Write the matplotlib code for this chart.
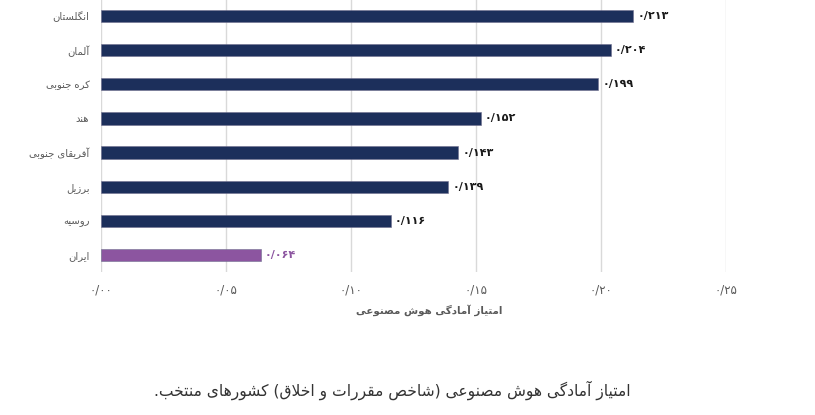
import matplotlib
matplotlib.use("Agg")
import matplotlib.pyplot as plt

# ---------------- data ----------------
countries = ["انگلستان", "آلمان", "کره جنوبی", "هند", "آفریقای جنوبی", "برزیل", "روسیه", "ایران"]
scores = [0.213, 0.204, 0.199, 0.152, 0.143, 0.139, 0.116, 0.064]
bar_colors = ["#1c2f5b"] * 7 + ["#8c55a0"]
label_colors = ["#1a1a1a"] * 7 + ["#8c55a0"]
tick_values = [0.00, 0.05, 0.10, 0.15, 0.20, 0.25]
tick_labels = ["۰/۰۰", "۰/۰۵", "۰/۱۰", "۰/۱۵", "۰/۲۰", "۰/۲۵"]
x_title = "امتیاز آمادگی هوش مصنوعی"
caption = "امتیاز آمادگی هوش مصنوعی (شاخص مقررات و اخلاق) کشورهای منتخب."

# ---------------- minimal Arabic/Persian shaping ----------------
FORMS = {
    '\u0627': ('\uFE8D', '\uFE8E', None, None),
    '\u0622': ('\uFE81', '\uFE82', None, None),
    '\u0628': ('\uFE8F', '\uFE90', '\uFE91', '\uFE92'),
    '\u067E': ('\uFB56', '\uFB57', '\uFB58', '\uFB59'),
    '\u062A': ('\uFE95', '\uFE96', '\uFE97', '\uFE98'),
    '\u062B': ('\uFE99', '\uFE9A', '\uFE9B', '\uFE9C'),
    '\u062C': ('\uFE9D', '\uFE9E', '\uFE9F', '\uFEA0'),
    '\u0686': ('\uFB7A', '\uFB7B', '\uFB7C', '\uFB7D'),
    '\u062D': ('\uFEA1', '\uFEA2', '\uFEA3', '\uFEA4'),
    '\u062E': ('\uFEA5', '\uFEA6', '\uFEA7', '\uFEA8'),
    '\u062F': ('\uFEA9', '\uFEAA', None, None),
    '\u0630': ('\uFEAB', '\uFEAC', None, None),
    '\u0631': ('\uFEAD', '\uFEAE', None, None),
    '\u0632': ('\uFEAF', '\uFEB0', None, None),
    '\u0698': ('\uFB8A', '\uFB8B', None, None),
    '\u0633': ('\uFEB1', '\uFEB2', '\uFEB3', '\uFEB4'),
    '\u0634': ('\uFEB5', '\uFEB6', '\uFEB7', '\uFEB8'),
    '\u0635': ('\uFEB9', '\uFEBA', '\uFEBB', '\uFEBC'),
    '\u0636': ('\uFEBD', '\uFEBE', '\uFEBF', '\uFEC0'),
    '\u0637': ('\uFEC1', '\uFEC2', '\uFEC3', '\uFEC4'),
    '\u0638': ('\uFEC5', '\uFEC6', '\uFEC7', '\uFEC8'),
    '\u0639': ('\uFEC9', '\uFECA', '\uFECB', '\uFECC'),
    '\u063A': ('\uFECD', '\uFECE', '\uFECF', '\uFED0'),
    '\u0641': ('\uFED1', '\uFED2', '\uFED3', '\uFED4'),
    '\u0642': ('\uFED5', '\uFED6', '\uFED7', '\uFED8'),
    '\u06A9': ('\uFB8E', '\uFB8F', '\uFB90', '\uFB91'),
    '\u06AF': ('\uFB92', '\uFB93', '\uFB94', '\uFB95'),
    '\u0644': ('\uFEDD', '\uFEDE', '\uFEDF', '\uFEE0'),
    '\u0645': ('\uFEE1', '\uFEE2', '\uFEE3', '\uFEE4'),
    '\u0646': ('\uFEE5', '\uFEE6', '\uFEE7', '\uFEE8'),
    '\u0648': ('\uFEED', '\uFEEE', None, None),
    '\u0647': ('\uFEE9', '\uFEEA', '\uFEEB', '\uFEEC'),
    '\u06CC': ('\uFBFC', '\uFBFD', '\uFBFE', '\uFBFF'),
    'LA': ('\uFEFB', '\uFEFC', None, None),
    'LAA': ('\uFEF5', '\uFEF6', None, None),
}
MIRROR = {'(': ')', ')': '(', '[': ']', ']': '['}


def shape_rtl(text):
    toks = []
    i = 0
    while i < len(text):
        c = text[i]
        if c == '\u0644' and i + 1 < len(text) and text[i + 1] in ('\u0627', '\u0622'):
            toks.append('LA' if text[i + 1] == '\u0627' else 'LAA')
            i += 2
        else:
            toks.append(c)
            i += 1
    out = []
    for j, t in enumerate(toks):
        if t not in FORMS:
            out.append(MIRROR.get(t, t))
            continue
        f = FORMS[t]
        prev = toks[j - 1] if j > 0 else None
        nxt = toks[j + 1] if j + 1 < len(toks) else None
        pc = prev is not None and prev in FORMS and FORMS[prev][2] is not None
        nc = f[2] is not None and nxt is not None and nxt in FORMS
        if pc and nc:
            out.append(f[3])
        elif pc:
            out.append(f[1])
        elif nc:
            out.append(f[2])
        else:
            out.append(f[0])
    return "".join(reversed(out))


PDIG = str.maketrans("0123456789.", "۰۱۲۳۴۵۶۷۸۹/")


def fa_num(v):
    return f"{v:.3f}".translate(PDIG)


plt.rcParams['font.family'] = ['DejaVu Sans']

fig = plt.figure(figsize=(8.15, 4.15), dpi=100)
ax = fig.add_axes([100.5 / 815, 1 - 272 / 415, (726 - 100.5) / 815, 273 / 415])

ypos = list(range(len(countries)))
ax.barh(ypos, scores, height=0.36, color=bar_colors, edgecolor="#6f6f8f", linewidth=0.4, zorder=3)
ax.set_ylim(len(countries) - 0.5, -0.5)
ax.set_xlim(0, 0.25)

for y, v, lc in zip(ypos, scores, label_colors):
    ax.text(v + 0.0016, y, fa_num(v), va="center", ha="left", fontsize=8,
            fontweight="bold", color=lc, zorder=4)

ax.set_yticks(ypos)
ax.set_yticklabels([shape_rtl(c) for c in countries], fontsize=7.2, color="#595959")
ax.set_xticks(tick_values)
ax.set_xticklabels(tick_labels, fontsize=8.5, color="#595959")
ax.tick_params(axis="both", length=0)
ax.tick_params(axis="x", pad=8)
ax.tick_params(axis="y", pad=8)
ax.grid(axis="x", color="#d9d9d9", linewidth=1, zorder=0)
ax.set_axisbelow(True)
for s in ax.spines.values():
    s.set_visible(False)

fig.text(429 / 815, 1 - 310 / 415, shape_rtl(x_title), ha="center", va="center",
         fontsize=7.4, fontweight="bold", color="#595959")
fig.text(392 / 815, 1 - 390 / 415, shape_rtl(caption), ha="center", va="center",
         fontsize=11.2, color="#333333")

fig.savefig("out.png", dpi=100, facecolor="white")
